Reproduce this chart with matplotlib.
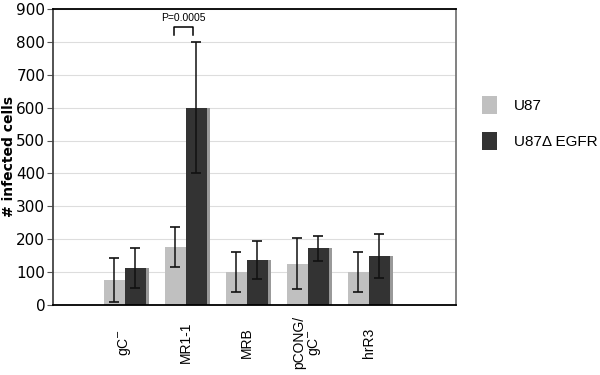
import matplotlib
matplotlib.use("Agg")
import matplotlib.pyplot as plt
import matplotlib.transforms as mtransforms
import numpy as np
from matplotlib.patches import Patch

categories = ["gC$^{-}$", "MR1-1", "MRB", "pCONG/\ngC$^{-}$", "hrR3"]
u87 = [75, 175, 100, 125, 100]
u87_err = [67, 61, 62, 77, 62]
egfr = [112, 600, 137, 172, 148]
egfr_err = [62, 200, 57, 39, 67]
series_names = ["U87", "U87\u0394 EGFR"]
yticks = [0, 100, 200, 300, 400, 500, 600, 700, 800, 900]

fig = plt.figure(figsize=(6, 3.75), dpi=100)
ax = fig.add_axes([0.088, 0.187, 0.672, 0.789])

x = np.arange(1, len(categories) + 1)
w = 0.34
light = "#c0c0c0"
dark = "#333333"

ax.set_axisbelow(True)
ax.yaxis.grid(True, color="#dddddd", linewidth=0.8)

# shadows for dark bars
ax.bar(x + w / 2 + 0.05, egfr, w, color="#999999", zorder=1, linewidth=0)
ax.bar(x - w / 2, u87, w, color=light, zorder=2, linewidth=0)
ax.bar(x + w / 2, egfr, w, color=dark, zorder=2, linewidth=0)
ax.errorbar(x - w / 2, u87, yerr=u87_err, fmt="none", ecolor="#111111",
            elinewidth=1.1, capsize=3.5, capthick=1.2, zorder=3)
ax.errorbar(x + w / 2, egfr, yerr=egfr_err, fmt="none", ecolor="#111111",
            elinewidth=1.1, capsize=3.5, capthick=1.2, zorder=3)

ax.set_xlim(-0.18, 6.43)
ax.set_ylim(0, 900)
ax.set_yticks(yticks)
ax.set_yticklabels([str(t) for t in yticks], fontsize=11, family="DejaVu Sans")
ax.set_xticks(x)
ax.set_xticklabels([""] * len(categories))
ax.tick_params(axis="x", length=0)
ax.tick_params(axis="y", length=4, pad=1.5, color="#555555")

# category labels, vertically centred below the axis
trans = mtransforms.blended_transform_factory(ax.transData, ax.transAxes)
for xi, lab in zip(x, categories):
    ax.text(xi, -0.128, lab, transform=trans, rotation=90, ha="center", va="center",
            fontsize=10, family="Liberation Sans", linespacing=0.95, multialignment="center")

ax.set_ylabel("# infected cells", fontsize=10, fontweight="bold", family="DejaVu Sans")
ax.yaxis.set_label_coords(-0.092, 0.5)

for s in ["top", "left", "bottom"]:
    ax.spines[s].set_color("black")
    ax.spines[s].set_linewidth(1.3)
ax.spines["left"].set_color("#444444")
ax.spines["right"].set_color("#777777")
ax.spines["right"].set_linewidth(1.3)

# significance bracket
x1 = x[1] - w / 2 - 0.02
x2 = x[1] + w / 2 - 0.05
ax.plot([x1, x1, x2, x2], [822, 845, 845, 822], color="black", lw=1.1,
        solid_joinstyle="round", clip_on=False)
ax.text((x1 + x2) / 2, 872, "P=0.0005", ha="center", va="center",
        fontsize=7.5, family="Liberation Sans")

handles = [Patch(facecolor=light, edgecolor="none"), Patch(facecolor=dark, edgecolor="none")]
fig.legend(handles, series_names, loc="upper left", bbox_to_anchor=(0.78, 0.78),
           frameon=False, prop={"family": "Liberation Sans", "size": 11},
           handlelength=1.0, handleheight=1.4, handletextpad=1.1, labelspacing=1.2)

fig.savefig("out.png", dpi=100)
